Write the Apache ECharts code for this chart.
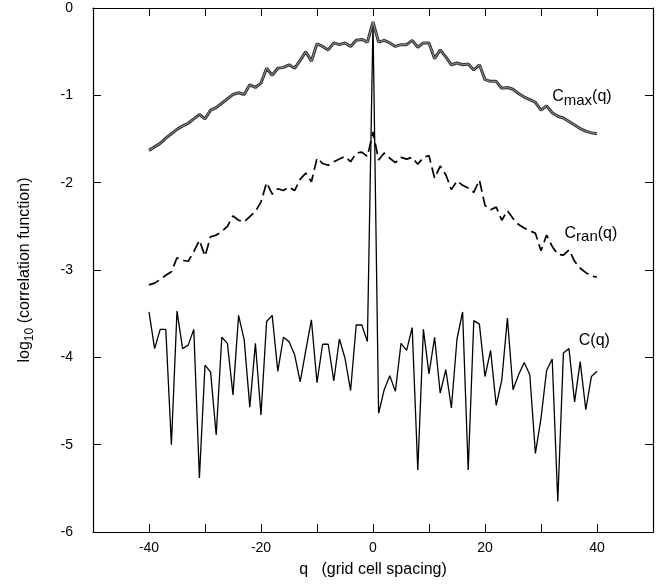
<!DOCTYPE html>
<html>
<head>
<meta charset="utf-8">
<script src="https://cdn.jsdelivr.net/npm/echarts/dist/echarts.min.js"></script>
<style>
html,body{margin:0;padding:0;background:#fff;}
#chart{width:669px;height:584px;}
</style>
</head>
<body>
<div id="chart"></div>
<script>
// grid cell spacing q
const q = [-40,-39,-38,-37,-36,-35,-34,-33,-32,-31,-30,-29,-28,-27,-26,-25,-24,-23,-22,-21,
  -20,-19,-18,-17,-16,-15,-14,-13,-12,-11,-10,-9,-8,-7,-6,-5,-4,-3,-2,-1,
  0,1,2,3,4,5,6,7,8,9,10,11,12,13,14,15,16,17,18,19,20,
  21,22,23,24,25,26,27,28,29,30,31,32,33,34,35,36,37,38,39,40];

// log10 Cmax(q)
const cMax = [-1.63,-1.59,-1.55,-1.49,-1.44,-1.39,-1.35,-1.32,-1.27,-1.22,
  -1.27,-1.17,-1.14,-1.09,-1.04,-0.99,-0.97,-0.99,-0.88,-0.91,
  -0.86,-0.69,-0.77,-0.69,-0.68,-0.65,-0.69,-0.60,-0.50,-0.61,
  -0.41,-0.44,-0.48,-0.40,-0.42,-0.40,-0.44,-0.37,-0.36,-0.39,
  -0.16,
  -0.39,-0.37,-0.40,-0.44,-0.42,-0.42,-0.37,-0.45,-0.40,-0.40,
  -0.58,-0.48,-0.56,-0.65,-0.63,-0.65,-0.64,-0.71,-0.65,-0.82,
  -0.84,-0.84,-0.92,-0.91,-0.93,-0.98,-1.02,-1.05,-1.08,-1.17,
  -1.12,-1.20,-1.24,-1.26,-1.30,-1.34,-1.38,-1.41,-1.43,-1.44];

// log10 Cran(q)
const cRan = [-3.17,-3.15,-3.11,-3.06,-3.02,-2.86,-2.89,-2.90,-2.79,-2.66,
  -2.84,-2.62,-2.60,-2.56,-2.50,-2.38,-2.43,-2.45,-2.39,-2.33,
  -2.22,-2.00,-2.13,-2.07,-2.09,-2.05,-2.09,-1.96,-1.89,-1.99,
  -1.72,-1.78,-1.80,-1.76,-1.73,-1.70,-1.76,-1.66,-1.65,-1.70,
  -1.42,
  -1.74,-1.66,-1.72,-1.77,-1.71,-1.73,-1.71,-1.79,-1.71,-1.69,
  -1.95,-1.81,-1.91,-2.08,-1.98,-2.03,-2.06,-2.11,-1.97,-2.26,
  -2.31,-2.28,-2.43,-2.32,-2.41,-2.48,-2.52,-2.55,-2.58,-2.78,
  -2.60,-2.73,-2.82,-2.83,-2.77,-2.90,-2.98,-3.03,-3.07,-3.08];

// log10 C(q)
const cQ = [-3.48,-3.90,-3.68,-3.68,-5.00,-3.47,-3.90,-3.86,-3.68,-5.38,
  -4.09,-4.17,-4.89,-3.77,-3.84,-4.43,-3.52,-3.80,-4.57,-3.84,
  -4.66,-3.59,-3.52,-4.16,-3.77,-3.82,-3.97,-4.28,-3.92,-3.57,
  -4.29,-3.85,-3.85,-4.27,-3.79,-4.01,-4.38,-3.63,-3.63,-3.82,
  -0.17,
  -4.64,-4.37,-4.21,-4.39,-3.84,-3.92,-3.66,-5.29,-3.68,-4.19,
  -3.77,-4.41,-4.14,-4.58,-3.79,-3.48,-5.29,-3.58,-3.62,-4.22,
  -3.92,-4.55,-4.26,-3.55,-4.37,-4.20,-4.06,-4.20,-5.10,-4.70,
  -4.15,-4.02,-5.65,-3.95,-3.90,-4.51,-4.05,-4.60,-4.22,-4.16];

const xTickLabels = [-40, -20, 0, 20, 40];
const yTickLabels = [0, -1, -2, -3, -4, -5, -6];

// series name labels: [text, q, log10 value]
const curveLabels = [
  ['{a|C}{s|max}{a|(q)}', 32.0, -1.03],
  ['{a|C}{s|ran}{a|(q)}', 34.2, -2.59],
  ['{a|C(q)}', 36.75, -3.82]
];

const FONT = '"Liberation Sans", Arial, Helvetica, sans-serif';
const pairs = arr => q.map((x, i) => [x, arr[i]]);
const labelRich = {
  a: {fontSize: 16, lineHeight: 18, verticalAlign: 'top', fontFamily: FONT, color: '#000'},
  s: {fontSize: 15, lineHeight: 18, verticalAlign: 'top', padding: [4, 0, 0, 0], fontFamily: FONT, color: '#000'}
};
const mark = (i) => ({
  symbol: 'circle', symbolSize: 0, silent: true, animation: false,
  data: [{coord: [curveLabels[i][1], curveLabels[i][2]]}],
  label: {show: true, position: 'right', distance: 0, formatter: curveLabels[i][0], rich: labelRich}
});

const xBase = {
  type: 'value', min: -50, max: 50, interval: 10,
  axisLine: {onZero: false, lineStyle: {color: '#000', width: 1.2}},
  axisTick: {inside: true, length: 8, lineStyle: {color: '#000', width: 1}},
  splitLine: {show: false}
};
const yBase = {
  type: 'value', min: -6, max: 0, interval: 1,
  axisLine: {onZero: false, lineStyle: {color: '#000', width: 1.2}},
  axisTick: {inside: true, length: 8, lineStyle: {color: '#000', width: 1}},
  splitLine: {show: false}
};

const option = {
  animation: false,
  backgroundColor: '#fff',
  grid: {left: 93, right: 16, top: 8, bottom: 52},
  xAxis: [
    Object.assign({}, xBase, {
      position: 'bottom',
      axisLabel: {
        color: '#000', fontSize: 14, fontFamily: FONT, margin: 9,
        formatter: v => xTickLabels.includes(v) ? String(v) : ''
      },
      name: 'q   (grid cell spacing)', nameLocation: 'middle', nameGap: 30,
      nameTextStyle: {color: '#000', fontSize: 16, fontFamily: FONT}
    }),
    Object.assign({}, xBase, {position: 'top', axisLabel: {show: false}})
  ],
  yAxis: [
    Object.assign({}, yBase, {
      position: 'left',
      axisLabel: {
        color: '#000', fontSize: 14, fontFamily: FONT, margin: 20,
        formatter: v => yTickLabels.includes(v) ? String(v) : ''
      },
      name: '{a|log}{s|10}{a| (correlation function)}', nameLocation: 'middle', nameGap: 58, nameRotate: 90,
      nameTextStyle: {
        color: '#000', fontSize: 16, fontFamily: FONT,
        rich: {
          a: {fontSize: 16, lineHeight: 18, verticalAlign: 'top', fontFamily: FONT, color: '#000'},
          s: {fontSize: 12, lineHeight: 14, verticalAlign: 'top', padding: [7, 0, 0, 0], fontFamily: FONT, color: '#000'}
        }
      }
    }),
    Object.assign({}, yBase, {position: 'right', axisLabel: {show: false}})
  ],
  series: [
    {type: 'line', name: 'C(q)', data: pairs(cQ), symbol: 'none', z: 2,
     lineStyle: {color: '#000', width: 1.3}, markPoint: mark(2)},
    {type: 'line', name: 'Cran(q)', data: pairs(cRan), symbol: 'none', z: 3,
     lineStyle: {color: '#000', width: 1.7, type: [11, 5]}, markPoint: mark(1)},
    {type: 'line', name: 'Cmax(q)', data: pairs(cMax), symbol: 'none', z: 4,
     lineStyle: {color: '#333', width: 3}, markPoint: mark(0)},
    {type: 'line', name: 'Cmax(q) inner', data: pairs(cMax), symbol: 'none', z: 5,
     lineStyle: {color: '#9c9c9c', width: 0.9}}
  ]
};

const chart = echarts.init(document.getElementById('chart'), null, {renderer: 'canvas'});
chart.setOption(option);
</script>
</body>
</html>
